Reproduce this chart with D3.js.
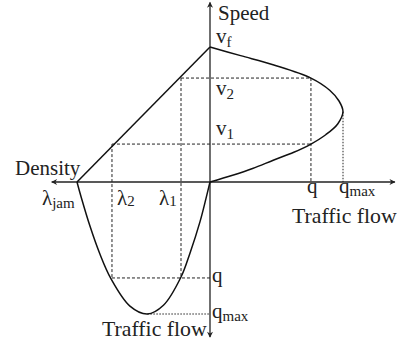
<!DOCTYPE html>
<html>
<head>
<meta charset="utf-8">
<script src="https://cdn.jsdelivr.net/npm/d3@7"></script>
<style>
  html, body { margin: 0; padding: 0; background: #fff; }
  svg { display: block; }
  text { font-family: "Liberation Serif", "Times New Roman", serif; fill: #222; }
</style>
</head>
<body>
<svg id="chart" width="397" height="345"></svg>
<script>
// ---- Data (normalised units: vf = 1, qmax = 1, λjam = 1) ----
// Speed–flow curve (upper right quadrant)
const sfFlow  = [0, 0.23, 0.48, 0.759, 0.9, 0.97, 1.0, 0.96, 0.87, 0.759, 0.63, 0.48, 0.32, 0.17, 0];
const sfSpeed = [1, 0.936, 0.867, 0.770, 0.68, 0.60, 0.52, 0.43, 0.35, 0.281, 0.22, 0.163, 0.10, 0.05, 0];
// Speed–density line (upper left quadrant)
const sdDensity = [1, 0];
const sdSpeed   = [0, 1];
// Density–flow curve (lower left quadrant)
const dfDensity = [1.0, 0.97, 0.902, 0.83, 0.744, 0.602, 0.471, 0.35, 0.218, 0.15, 0.075, 0.03, 0];
const dfFlow    = [0, 0.11, 0.336, 0.54, 0.734, 0.94, 1.0, 0.934, 0.72, 0.537, 0.30, 0.124, 0];
// Characteristic levels
const speedLevels   = [1, 0.770, 0.281];          // vf, v2, v1
const speedSubs     = ["f", "2", "1"];
const densityLevels = [1, 0.737, 0.218];          // λjam, λ2, λ1
const densitySubs   = ["jam", "2", "1"];
const flowRightLevels = [0.759, 1];               // q, qmax (horizontal flow axis)
const flowDownLevels  = [0.727, 1];               // q, qmax (vertical flow axis)
const flowSubs        = ["", "max"];
const qmaxSpeed   = 0.52;   // speed at capacity
const qmaxDensity = 0.471;  // density at capacity
const axisTitles = ["Speed", "Density", "Traffic flow", "Traffic flow"];

// ---- Scales ----
const svg = d3.select("#chart");
const xFlow = d3.scaleLinear().domain([0, 1]).range([210, 343]);
const xDen  = d3.scaleLinear().domain([0, 1]).range([210, 77]);
const ySpd  = d3.scaleLinear().domain([0, 1]).range([182, 47]);
const yFlow = d3.scaleLinear().domain([0, 1]).range([182, 314]);

// arrow marker
const defs = svg.append("defs");
defs.append("marker")
  .attr("id", "arr").attr("viewBox", "0 0 10 10")
  .attr("refX", 9).attr("refY", 5)
  .attr("markerWidth", 8).attr("markerHeight", 6)
  .attr("markerUnits", "userSpaceOnUse")
  .attr("orient", "auto-start-reverse")
  .append("path").attr("d", "M0,0 L10,5 L0,10 L3,5 Z").attr("fill", "#222");

// ---- Axes ----
svg.append("line")
  .attr("x1", xDen(1.19)).attr("x2", xFlow(1.39))
  .attr("y1", ySpd(0)).attr("y2", ySpd(0))
  .attr("stroke", "#222").attr("stroke-width", 1.3)
  .attr("marker-start", "url(#arr)").attr("marker-end", "url(#arr)");
svg.append("line")
  .attr("x1", xFlow(0)).attr("x2", xFlow(0))
  .attr("y1", ySpd(1.33)).attr("y2", yFlow(1.175))
  .attr("stroke", "#222").attr("stroke-width", 1.3)
  .attr("marker-start", "url(#arr)").attr("marker-end", "url(#arr)");

// ---- Guide lines ----
const guides = svg.append("g").attr("fill", "none").attr("stroke", "#222").attr("stroke-width", 1);
function gl(x1, y1, x2, y2, dash) {
  guides.append("line").attr("x1", x1).attr("y1", y1).attr("x2", x2).attr("y2", y2)
    .attr("stroke-dasharray", dash);
}
const dash = "3,2", dot = "1.5,1.5";
gl(xDen(densityLevels[2]), ySpd(speedLevels[1]), xFlow(flowRightLevels[0]), ySpd(speedLevels[1]), dash);
gl(xDen(densityLevels[1]), ySpd(speedLevels[2]), xFlow(flowRightLevels[0]), ySpd(speedLevels[2]), dash);
gl(xDen(densityLevels[2]), ySpd(speedLevels[1]), xDen(densityLevels[2]), yFlow(flowDownLevels[0]), dash);
gl(xDen(densityLevels[1]), ySpd(speedLevels[2]), xDen(densityLevels[1]), yFlow(flowDownLevels[0]), dash);
gl(xFlow(flowRightLevels[0]), ySpd(speedLevels[1]), xFlow(flowRightLevels[0]), ySpd(0), dash);
gl(xFlow(flowRightLevels[1]), ySpd(qmaxSpeed), xFlow(flowRightLevels[1]), ySpd(0), dot);
gl(xDen(densityLevels[1]), yFlow(flowDownLevels[0]), xDen(0), yFlow(flowDownLevels[0]), dash);
gl(xDen(qmaxDensity), yFlow(flowDownLevels[1]), xDen(0), yFlow(flowDownLevels[1]), dot);

// ---- Curves ----
const curves = svg.append("g").attr("fill", "none").attr("stroke", "#111").attr("stroke-width", 1.5);
curves.append("path")
  .attr("d", d3.line().x(d => xFlow(d[0])).y(d => ySpd(d[1])).curve(d3.curveCatmullRom.alpha(0.5))(d3.zip(sfFlow, sfSpeed)));
curves.append("path")
  .attr("d", d3.line().x(d => xDen(d[0])).y(d => ySpd(d[1]))(d3.zip(sdDensity, sdSpeed)));
curves.append("path")
  .attr("d", d3.line().x(d => xDen(d[0])).y(d => yFlow(d[1])).curve(d3.curveCatmullRom.alpha(0.5))(d3.zip(dfDensity, dfFlow)));

// ---- Labels ----
const FS = 21, SFS = 15;
function lab(x, y, main, sub, subDy, fs) {
  const t = svg.append("text").attr("x", x).attr("y", y).attr("font-size", fs || FS);
  t.append("tspan").text(main);
  if (sub) t.append("tspan").attr("font-size", SFS).attr("dy", subDy).text(sub);
  return t;
}
// axis titles
lab(218, 20, axisTitles[0]);
lab(15, 175, axisTitles[1]);
lab(292, 223, axisTitles[2], null, 0, 21.8);
lab(102, 336, axisTitles[3], null, 0, 21.8);
// speed labels
const speedOff = [-4, 17, -9];
speedLevels.forEach((v, i) => lab(216, ySpd(v) + speedOff[i], "v", speedSubs[i], 4));
// density labels
const denOff = [-35, 5, -22];
densityLevels.forEach((d, i) => lab(xDen(d) + denOff[i], ySpd(0) + 23, "λ", densitySubs[i], i === 0 ? 3 : 1));
// flow labels (horizontal axis)
flowRightLevels.forEach((q, i) => lab(xFlow(q) - 4, ySpd(0) + 11, "q", flowSubs[i], 3));
// flow labels (vertical axis)
flowDownLevels.forEach((q, i) => lab(xFlow(0) + 2, yFlow(q) + 4, "q", flowSubs[i], 3));
</script>
</body>
</html>
